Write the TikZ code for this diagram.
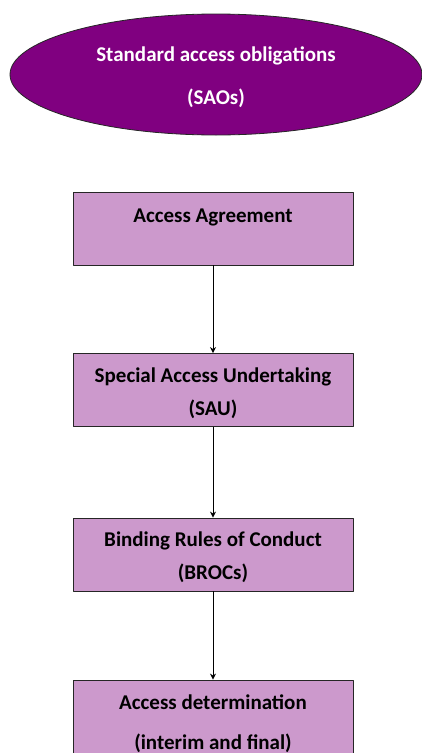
\documentclass[tikz,border=0pt]{standalone}
\usepackage{fontspec}
\setmainfont{Carlito}
\usetikzlibrary{shapes.geometric,positioning,arrows.meta}
\definecolor{saopurple}{HTML}{800080}
\definecolor{boxlilac}{HTML}{CC99CC}
\begin{document}
\begin{tikzpicture}[x=1pt, y=-1pt, line join=round, >={Stealth[length=6pt,width=6pt]},
        stagebox/.style={draw=black!85, line width=0.8pt, fill=boxlilac,
        minimum width=280pt, minimum height=73pt, inner sep=0pt, align=center,
        font=\fontsize{21}{33}\selectfont\bfseries}]
        \useasboundingbox (0,0) rectangle (422,753);
        
        % top ellipse
        \node[ellipse, draw=black!85, line width=0.8pt, fill=saopurple, text=white,
        minimum width=412pt, minimum height=121pt, inner sep=0pt, align=center,
        font=\fontsize{21}{43}\selectfont\bfseries] (sao) at (216,74.5)
        {\rule{0pt}{20.5pt}Standard access obligations\\(SAOs)};
        
        % the chain of boxes
        \node[stagebox] (agree) at (213,228.5) {\rule{0pt}{20.5pt}Access Agreement\\\mbox{}};
        \node[stagebox] (sau) at (213,390) {\rule{0pt}{20.5pt}Special Access Undertaking\\(SAU)};
        \node[stagebox] (brocs) at (213,554.5) {\rule{0pt}{20.5pt}Binding Rules of Conduct\\(BROCs)};
        \node[stagebox, minimum height=81pt, font=\fontsize{21}{40}\selectfont\bfseries]
        (determ) at (213,720.5) {\rule{0pt}{20.5pt}Access determination\\(interim and final)};
        
        \foreach \a/\b in {agree/sau, sau/brocs, brocs/determ}
        \draw[->, line width=1pt] (\a) -- (\b);
    \end{tikzpicture}
\end{document}
